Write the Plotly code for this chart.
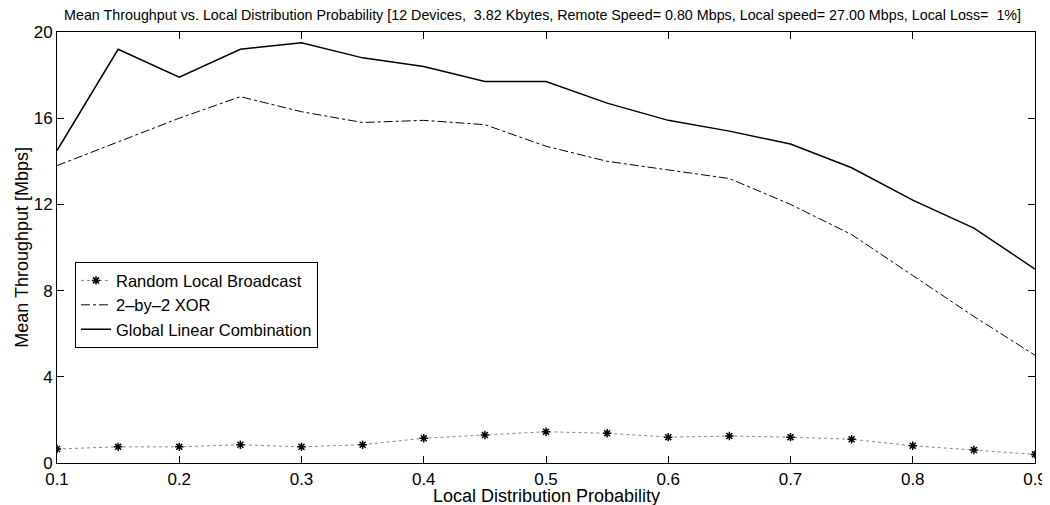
import plotly.graph_objects as go

prob = [0.1, 0.15, 0.2, 0.25, 0.3, 0.35, 0.4, 0.45, 0.5, 0.55, 0.6, 0.65, 0.7, 0.75, 0.8, 0.85, 0.9]
random_bc = [0.65, 0.75, 0.75, 0.85, 0.75, 0.85, 1.15, 1.3, 1.45, 1.38, 1.2, 1.25, 1.2, 1.1, 0.8, 0.6, 0.4]
xor22 = [13.8, 14.9, 16.0, 17.0, 16.3, 15.8, 15.9, 15.7, 14.7, 14.0, 13.6, 13.2, 12.0, 10.6, 8.7, 6.8, 5.0]
global_lc = [14.5, 19.2, 17.9, 19.2, 19.5, 18.8, 18.4, 17.7, 17.7, 16.7, 15.9, 15.4, 14.8, 13.7, 12.2, 10.9, 9.0]

x_ticks = [0.1, 0.2, 0.3, 0.4, 0.5, 0.6, 0.7, 0.8, 0.9]
x_labels = ["0.1", "0.2", "0.3", "0.4", "0.5", "0.6", "0.7", "0.8", "0.9"]
y_ticks = [0, 4, 8, 12, 16, 20]

title = ("Mean Throughput vs. Local Distribution Probability [12 Devices,  3.82 Kbytes, "
         "Remote Speed= 0.80 Mbps, Local speed= 27.00 Mbps, Local Loss=  1%]")
x_title = "Local Distribution Probability"
y_title = "Mean Throughput [Mbps]"

fig = go.Figure()
fig.add_trace(go.Scatter(x=prob, y=random_bc, mode="lines+markers", name="Random Local Broadcast",
                         line=dict(color="#888888", width=1, dash="dot"),
                         marker=dict(symbol="asterisk", size=7, color="black",
                                     line=dict(color="black", width=1.5))))
fig.add_trace(go.Scatter(x=prob, y=xor22, mode="lines", name="2\u2013by\u20132 XOR",
                         line=dict(color="black", width=1, dash="dashdot")))
fig.add_trace(go.Scatter(x=prob, y=global_lc, mode="lines", name="Global Linear Combination",
                         line=dict(color="black", width=1.5)))

# page body has an 8px default margin, so the figure is sized/offset to compensate
fig.update_layout(
    width=1042, height=497,
    margin=dict(l=49, r=15, t=24, b=42, autoexpand=False),
    paper_bgcolor="white", plot_bgcolor="white",
    font=dict(family="Liberation Sans, Arial, sans-serif", size=17, color="black"),
    title=dict(text=title, xref="paper", x=0.4965, xanchor="center",
               yref="container", y=0.985, yanchor="middle",
               font=dict(family="Liberation Sans, Arial, sans-serif", size=14.3)),
    showlegend=True,
    legend=dict(x=0.0184, y=0.466, xanchor="left", yanchor="top",
                bordercolor="black", borderwidth=1, bgcolor="white",
                font=dict(size=16.5), tracegroupgap=0, itemwidth=30),
    annotations=[
        dict(text=x_title, xref="paper", yref="paper", x=0.5, y=-0.076,
             xanchor="center", yanchor="middle", showarrow=False, font=dict(size=18)),
        dict(text=y_title, xref="paper", yref="paper", x=-0.0365, y=0.5,
             xanchor="center", yanchor="middle", textangle=-90, showarrow=False,
             font=dict(size=18)),
    ],
)
fig.update_xaxes(range=[0.1, 0.9], tickvals=x_ticks, ticktext=x_labels,
                 ticks="inside", ticklen=7, tickcolor="black", mirror="ticks", automargin=False,
                 ticklabelstandoff=1, ticklabeloverflow="allow",
                 showline=True, linecolor="black", linewidth=1, showgrid=False, zeroline=False)
fig.update_yaxes(range=[0, 20], tickvals=y_ticks,
                 ticks="inside", ticklen=7, tickcolor="black", mirror="ticks", automargin=False,
                 ticklabeloverflow="allow",
                 showline=True, linecolor="black", linewidth=1, showgrid=False, zeroline=False)

fig.write_html("out.html")
